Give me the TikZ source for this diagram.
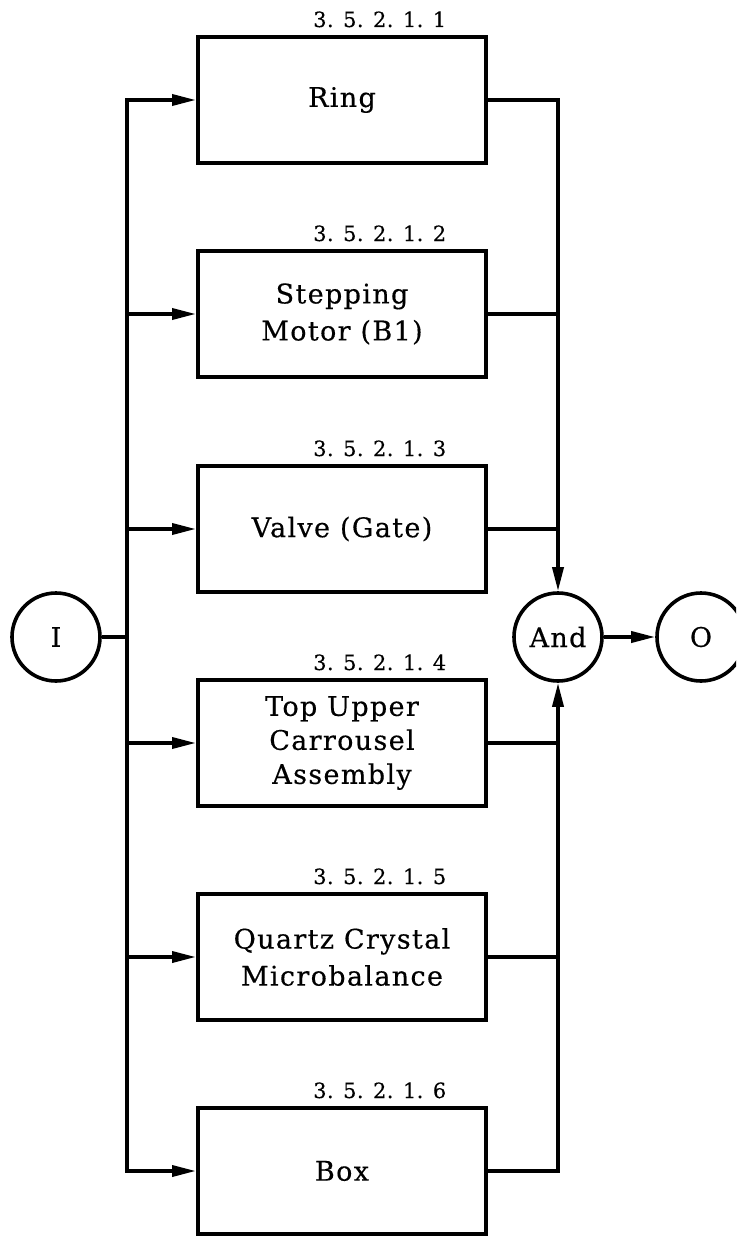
\documentclass[tikz,border=0pt]{standalone}
\usepackage{fontspec}
\setmainfont{DejaVu Serif}[LetterSpace=5, FakeBold=0.4]
\newfontfamily\tagfam{DejaVu Serif}[LetterSpace=2, FakeBold=0.3]
\usetikzlibrary{arrows.meta}
\newcommand\boxfont{\fontsize{27}{37}\selectfont}
\newcommand\tagfont{\tagfam\fontsize{21}{24}\selectfont}
\begin{document}
\begin{tikzpicture}[x=1pt,y=-1pt,
  wire/.style={line width=3.6pt, line join=miter},
  arr/.style={wire, -{Triangle[length=24pt,width=11pt]}},
  arrs/.style={wire, {Triangle[length=24pt,width=11pt]}-{Triangle[length=24pt,width=11pt]}},
  blk/.style={draw, line width=4pt, minimum width=288pt, minimum height=126pt,
    inner sep=0pt, align=center, font=\boxfont},
  tag/.style={anchor=base west, inner sep=0pt, font=\tagfont},
  disc/.style={draw, circle, line width=3.6pt, minimum size=88pt, inner sep=0pt,
    font=\boxfont}]
\useasboundingbox (0,0) rectangle (736,1236);
\clip (0,0) rectangle (736,1236);

% the six blocks and their reference numbers
\node[blk] (b1) at (342,100) {Ring};
\node[blk] (b2) at (342,314) {Stepping\\Motor (B1)};
\node[blk] (b3) at (342,529) {Valve (Gate)};
\node[blk, font=\fontsize{27}{34}\selectfont] (b4) at (342,743) {Top Upper\\Carrousel\\Assembly};
\node[blk] (b5) at (342,957) {Quartz Crystal\\Microbalance};
\node[blk] (b6) at (342,1171) {Box};

\node[tag] (t1) at (313,27)   {3. 5. 2. 1. 1};
\node[tag] (t2) at (313,241)  {3. 5. 2. 1. 2};
\node[tag] (t3) at (313,456)  {3. 5. 2. 1. 3};
\node[tag] (t4) at (313,670)  {3. 5. 2. 1. 4};
\node[tag] (t5) at (313,884)  {3. 5. 2. 1. 5};
\node[tag] (t6) at (313,1098) {3. 5. 2. 1. 6};

% input, gate and output
\node[disc] (I) at (56,637) {I};
\node[disc] (And) at (558,637) {And};
\node[disc] (O) at (701,637) {O};

% distribution bus on the left
\coordinate (L1) at (127,100);
\coordinate (L2) at (127,314);
\coordinate (L3) at (127,529);
\coordinate (Lj) at (127,637);
\coordinate (L4) at (127,743);
\coordinate (L5) at (127,957);
\coordinate (L6) at (127,1171);

% collecting bus on the right
\coordinate (R1) at (558,100);
\coordinate (R2) at (558,314);
\coordinate (R3) at (558,529);
\coordinate (R4) at (558,743);
\coordinate (R5) at (558,957);
\coordinate (R6) at (558,1171);

\draw[wire] (I) -- (Lj);
\draw[arrs] (b1.west) -- (L1) -- (L6) -- (b6.west);
\draw[arr] (L2) -- (b2.west);
\draw[arr] (L3) -- (b3.west);
\draw[arr] (L4) -- (b4.west);
\draw[arr] (L5) -- (b5.west);

\draw[arr] (b1.east) -- (R1) -- (And.north);
\draw[wire] (b2.east) -- (R2);
\draw[wire] (b3.east) -- (R3);
\draw[wire] (b4.east) -- (R4);
\draw[wire] (b5.east) -- (R5);
\draw[arr] (b6.east) -- (R6) -- (And.south);

\draw[arr] (And) -- (O);
\end{tikzpicture}
\end{document}
